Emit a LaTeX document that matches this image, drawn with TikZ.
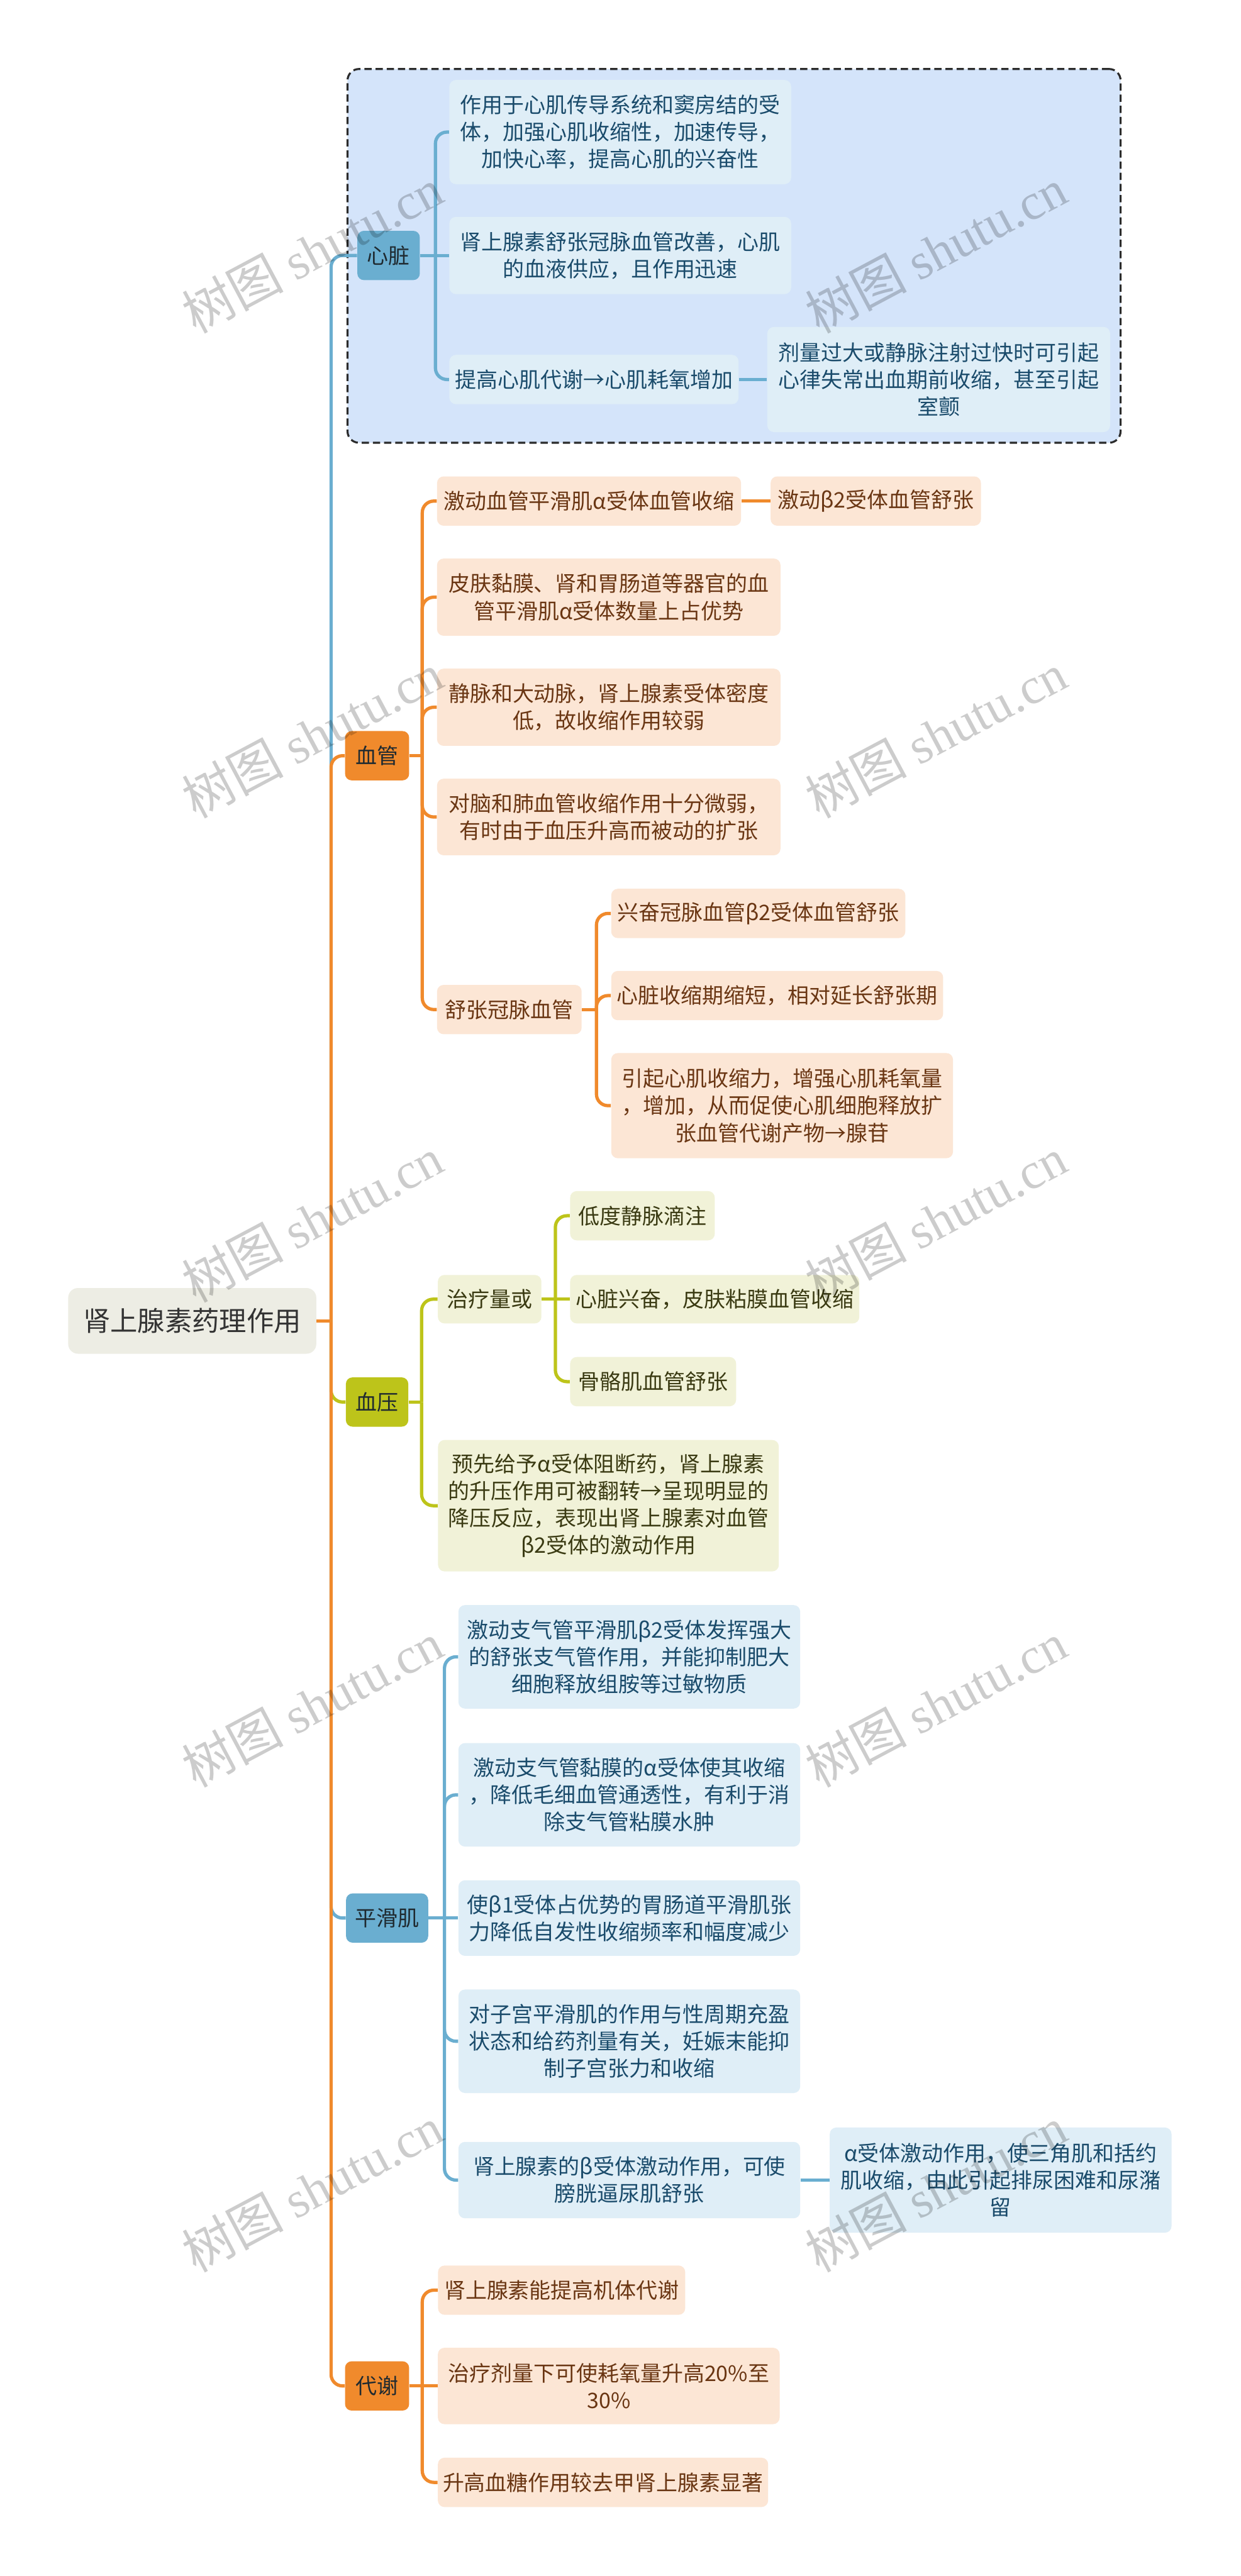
\documentclass[tikz,border=0pt]{standalone}
\usepackage{fontspec}
\setmainfont{Noto Sans CJK SC}
\newfontfamily\wmcjk{Noto Sans CJK SC}
\newfontfamily\wmlat{Liberation Serif}
\usetikzlibrary{calc}
\definecolor{bluemain}{HTML}{6AAED0}
\definecolor{bluelight}{HTML}{DFEEF7}
\definecolor{bluetext}{HTML}{1A4B6B}
\definecolor{orgmain}{HTML}{F08A2C}
\definecolor{orglight}{HTML}{FCE6D5}
\definecolor{orgtext}{HTML}{6A3613}
\definecolor{grnmain}{HTML}{BDC41A}
\definecolor{grnlight}{HTML}{F1F2D8}
\definecolor{grntext}{HTML}{3A3A12}
\definecolor{rootfill}{HTML}{EDEDE4}
\definecolor{roottext}{HTML}{333333}
\definecolor{boxfill}{HTML}{D4E4FA}
\definecolor{boxdash}{HTML}{2B2B2B}
\definecolor{darktext}{HTML}{1F2A30}
\tikzset{
  base/.style={rounded corners=4pt, inner sep=0pt, align=center, font=\fontsize{13}{16.5}\selectfont},
  sz/.style 2 args={minimum width=#1pt, minimum height=#2pt},
  bla/.style={base, fill=bluemain, text=darktext},
  blb/.style={base, fill=bluelight, text=bluetext},
  ora/.style={base, fill=orgmain, text=darktext},
  orb/.style={base, fill=orglight, text=orgtext},
  gra/.style={base, fill=grnmain, text=darktext},
  grb/.style={base, fill=grnlight, text=grntext},
  rootbox/.style={rounded corners=6pt, inner sep=0pt, fill=rootfill, text=roottext, font=\fontsize{16.6}{20}\selectfont},
  conn/.style={line width=2pt, rounded corners=7pt},
  wm/.style={text=black, text opacity=0.2, inner sep=0pt, font=\fontsize{31}{34}\selectfont},
  grpbox/.style={draw=boxdash, fill=boxfill, line width=1.2pt, dash pattern=on 4.4pt off 2.4pt, rounded corners=7pt, inner sep=0pt}
}
\begin{document}
\begin{tikzpicture}[x=1pt,y=-1pt]
\fill[white] (0,0) rectangle (755,1568);
\useasboundingbox (0,0) rectangle (755,1568);

% group box
\node[grpbox, sz={470.5}{227.5}] (grp) at (446.75,155.75) {};

% root and level-1
\node[rootbox, sz={151}{40}] (root) at (117,804) {肾上腺素药理作用};
\node[bla, sz={38}{30}] (heart) at (236.5,155.5) {心脏};
\node[ora, sz={39}{30}] (vessel) at (229.5,460) {血管};
\node[gra, sz={38}{30}] (bp) at (229.5,853.4) {血压};
\node[bla, sz={50}{30}] (sm) at (235.6,1167.5) {平滑肌};
\node[ora, sz={39}{30}] (met) at (229.5,1452.3) {代谢};

% heart children
\node[blb, sz={208}{63.4}] (c1) at (377.5,80.4) {作用于心肌传导系统和窦房结的受\\体，加强心肌收缩性，加速传导，\\加快心率，提高心肌的兴奋性};
\node[blb, sz={208}{47}] (c2) at (377.5,155.5) {肾上腺素舒张冠脉血管改善，心肌\\的血液供应，且作用迅速};
\node[blb, sz={176}{30}] (c3) at (361.5,231) {提高心肌代谢→心肌耗氧增加};
\node[blb, sz={208.6}{64}] (c3a) at (571.3,231) {剂量过大或静脉注射过快时可引起\\心律失常出血期前收缩，甚至引起\\室颤};

% vessel children
\node[orb, sz={185}{30}] (v1) at (358.5,305) {激动血管平滑肌α受体血管收缩};
\node[orb, sz={128}{30}] (v1a) at (533,305) {激动β2受体血管舒张};
\node[orb, sz={209}{47}] (v2) at (370.5,363.5) {皮肤黏膜、肾和胃肠道等器官的血\\管平滑肌α受体数量上占优势};
\node[orb, sz={209}{47}] (v3) at (370.5,430.5) {静脉和大动脉，肾上腺素受体密度\\低，故收缩作用较弱};
\node[orb, sz={209}{46.6}] (v4) at (370.5,497.3) {对脑和肺血管收缩作用十分微弱，\\有时由于血压升高而被动的扩张};
\node[orb, sz={88}{30}] (v5) at (310,614.5) {舒张冠脉血管};
\node[orb, sz={179}{30}] (v5a) at (461.5,556) {兴奋冠脉血管β2受体血管舒张};
\node[orb, sz={202}{30}] (v5b) at (473,606) {心脏收缩期缩短，相对延长舒张期};
\node[orb, sz={208}{64}] (v5c) at (476,673) {引起心肌收缩力，增强心肌耗氧量\\，增加，从而促使心肌细胞释放扩\\张血管代谢产物→腺苷};

% blood pressure children
\node[grb, sz={63}{29.5}] (p1) at (298,790.8) {治疗量或};
\node[grb, sz={88}{30}] (p1a) at (391,740) {低度静脉滴注};
\node[grb, sz={176}{29.5}] (p1b) at (435,790.8) {心脏兴奋，皮肤粘膜血管收缩};
\node[grb, sz={101}{30}] (p1c) at (397.5,841) {骨骼肌血管舒张};
\node[grb, sz={207.4}{80}] (p2) at (370.3,916.5) {预先给予α受体阻断药，肾上腺素\\的升压作用可被翻转→呈现明显的\\降压反应，表现出肾上腺素对血管\\β2受体的激动作用};

% smooth muscle children
\node[blb, sz={208}{63}] (s1) at (383,1008.5) {激动支气管平滑肌β2受体发挥强大\\的舒张支气管作用，并能抑制肥大\\细胞释放组胺等过敏物质};
\node[blb, sz={208}{63}] (s2) at (383,1092.5) {激动支气管黏膜的α受体使其收缩\\，降低毛细血管通透性，有利于消\\除支气管粘膜水肿};
\node[blb, sz={208}{46}] (s3) at (383,1167.5) {使β1受体占优势的胃肠道平滑肌张\\力降低自发性收缩频率和幅度减少};
\node[blb, sz={208}{63}] (s4) at (383,1242.5) {对子宫平滑肌的作用与性周期充盈\\状态和给药剂量有关，妊娠末能抑\\制子宫张力和收缩};
\node[blb, sz={208}{46.5}] (s5) at (383,1327) {肾上腺素的β受体激动作用，可使\\膀胱逼尿肌舒张};
\node[blb, sz={208}{64}] (s5a) at (609,1327) {α受体激动作用，使三角肌和括约\\肌收缩，由此引起排尿困难和尿潴\\留};

% metabolism children
\node[orb, sz={150.4}{30}] (m1) at (341.8,1394) {肾上腺素能提高机体代谢};
\node[orb, sz={208}{46.5}] (m2) at (370.5,1452.3) {治疗剂量下可使耗氧量升高20\%至\\30\%};
\node[orb, sz={201}{30}] (m3) at (367,1511) {升高血糖作用较去甲肾上腺素显著};

% bracket coordinates
\coordinate (tr) at (201.5,0);
\coordinate (hb) at (265,0);
\coordinate (vb) at (257,0);
\coordinate (v5x) at (363,0);
\coordinate (bb) at (256.6,0);
\coordinate (p1x) at (338,0);
\coordinate (sb) at (270.5,0);
\coordinate (mb) at (257,0);

% root connectors (draw order: blue, green, orange on top)
\draw[conn, bluemain] (root.east -| tr) |- (heart.west);
\draw[conn, bluemain] (root.east -| tr) |- (sm.west);
\draw[conn, grnmain] (root.east -| tr) |- (bp.west);
\draw[conn, orgmain] (root.east -| tr) |- (vessel.west);
\draw[conn, orgmain] (root.east -| tr) |- (met.west);
\draw[conn, orgmain] (root.east) -- (root.east -| tr);

% heart connectors
\draw[conn, bluemain] (heart.east) -- (heart.east -| hb);
\draw[conn, bluemain] (heart.east -| hb) |- (c1.west);
\draw[conn, bluemain] (heart.east -| hb) -- (c2.west);
\draw[conn, bluemain] (heart.east -| hb) |- (c3.west);
\draw[conn, bluemain] (c3.east) -- (c3a.west);

% vessel connectors
\draw[conn, orgmain] (vessel.east) -- (vessel.east -| vb);
\foreach \t in {v1,v2,v3,v4,v5} \draw[conn, orgmain] (vessel.east -| vb) |- (\t.west);
\draw[conn, orgmain] (v1.east) -- (v1a.west);
\draw[conn, orgmain] (v5.east) -- (v5.east -| v5x);
\foreach \t in {v5a,v5b,v5c} \draw[conn, orgmain] (v5.east -| v5x) |- (\t.west);

% blood pressure connectors
\draw[conn, grnmain] (bp.east) -- (bp.east -| bb);
\foreach \t in {p1,p2} \draw[conn, grnmain] (bp.east -| bb) |- (\t.west);
\draw[conn, grnmain] (p1.east) -- (p1.east -| p1x);
\draw[conn, grnmain] (p1.east -| p1x) |- (p1a.west);
\draw[conn, grnmain] (p1.east -| p1x) -- (p1b.west);
\draw[conn, grnmain] (p1.east -| p1x) |- (p1c.west);

% smooth muscle connectors
\draw[conn, bluemain] (sm.east) -- (sm.east -| sb);
\foreach \t in {s1,s2,s4,s5} \draw[conn, bluemain] (sm.east -| sb) |- (\t.west);
\draw[conn, bluemain] (sm.east -| sb) -- (s3.west);
\draw[conn, bluemain] (s5.east) -- (s5a.west);

% metabolism connectors
\draw[conn, orgmain] (met.east) -- (met.east -| mb);
\draw[conn, orgmain] (met.east -| mb) |- (m1.west);
\draw[conn, orgmain] (met.east -| mb) -- (m2.west);
\draw[conn, orgmain] (met.east -| mb) |- (m3.west);

% watermarks
\foreach \i/\xx/\yy in {1/190/152.5, 2/569.5/152.5, 3/190/447.5, 4/569.5/447.5, 5/190/742.5, 6/569.5/742.5, 7/190/1037.5, 8/569.5/1037.5, 9/190/1332.5, 10/569.5/1332.5}
  \node[wm, rotate=28] (wm\i) at (\xx,\yy) {{\wmcjk 树图} {\wmlat shutu.cn}};
\end{tikzpicture}
\end{document}
